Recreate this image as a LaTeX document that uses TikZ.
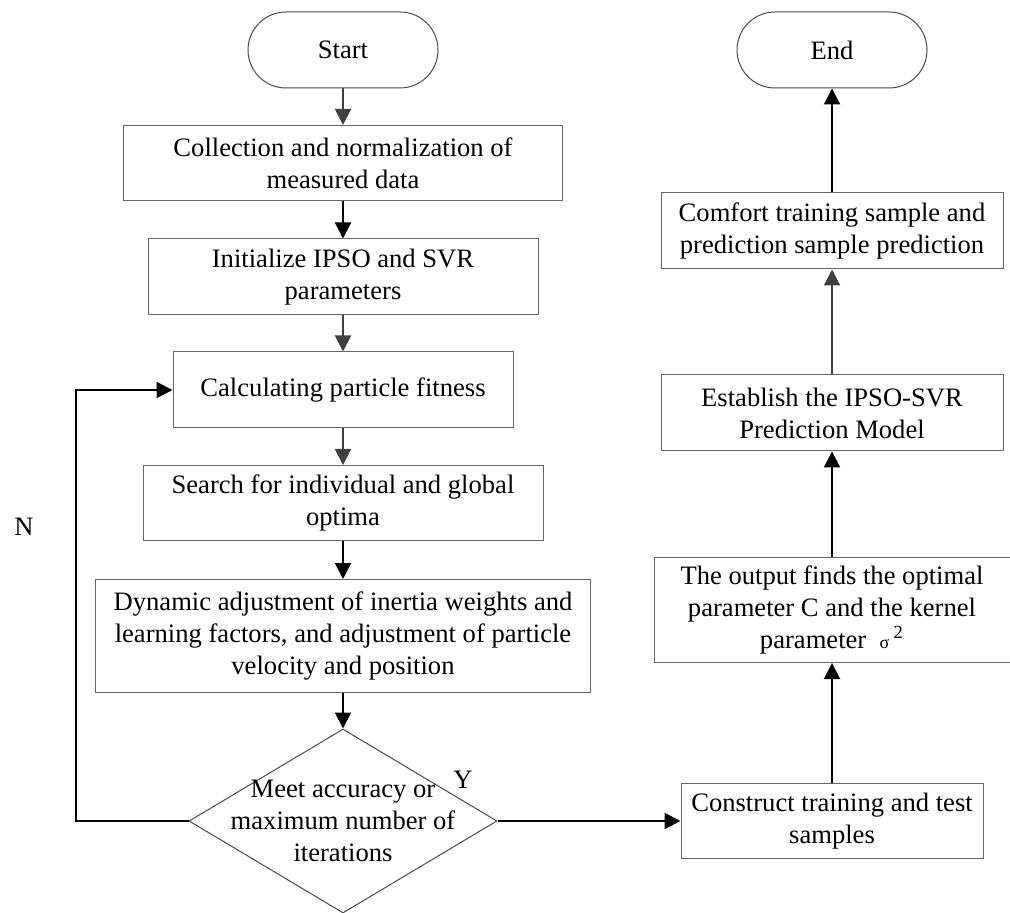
\documentclass[tikz,border=0pt]{standalone}
\usepackage{fontspec}
\setmainfont{Liberation Serif}
\usetikzlibrary{shapes.geometric, positioning, arrows.meta}

\tikzset{
    terminal/.style={draw=black!70, line width=0.5pt, rounded corners=19pt,
        minimum width=95pt, minimum height=38pt, align=center},
    process/.style={draw=black!60, line width=0.5pt, minimum height=38pt, align=center},
    decision/.style={draw=black!70, line width=0.5pt, diamond, aspect=1.674,
        minimum width=154pt, minimum height=92pt, inner sep=0pt},
    flow/.style={-{Triangle[length=8pt,width=8pt]}, line width=1pt, black},
    flowgray/.style={flow, black!75}
}

\begin{document}
\begin{tikzpicture}[font=\fontsize{13.3pt}{16pt}\selectfont, node distance=50pt, on grid]
    \useasboundingbox (0,0) rectangle (505pt,-456.5pt);

    % left column
    \node[terminal] (start) at (171.5pt,-25pt) {Start};
    \node[process, minimum width=219.5pt, minimum height=37.5pt] (collect) [below=56.5pt of start]
        {Collection and normalization of\\measured data};
    \node[process, minimum width=195pt] (init) [below=57pt of collect]
        {Initialize IPSO and SVR\\parameters};
    \node[process, minimum width=170pt] (fitness) [below=56.5pt of init]
        {Calculating particle fitness};
    \node[process, minimum width=200pt, minimum height=37.5pt] (optima) [below=56.5pt of fitness]
        {Search for individual and global\\optima};
    \node[process, minimum width=247.5pt, minimum height=56.5pt] (adjust) [below=66.5pt of optima]
        {Dynamic adjustment of inertia weights and\\learning factors, and adjustment of particle\\velocity and position};
    \node[decision, label={[align=center]center:Meet accuracy or\\maximum number of\\iterations}]
        (check) [below=92.5pt of adjust] {};

    % right column
    \node[process, minimum width=151pt, minimum height=37.5pt] (samples) [right=244.5pt of check]
        {Construct training and test\\samples};
    \node[process, minimum width=178pt, minimum height=52.5pt] (param) [above=105.5pt of samples]
        {The output finds the optimal\\parameter C and the kernel\\parameter~~{\small σ}\,\textsuperscript{2}};
    \node[process, minimum width=171pt] (model) [above=98.5pt of param]
        {Establish the IPSO-SVR\\Prediction Model};
    \node[process, minimum width=171pt] (predict) [above=91pt of model]
        {Comfort training sample and\\prediction sample prediction};
    \node[terminal] (finish) [above=90.5pt of predict] {End};

    \coordinate (loop) at (38pt,-195pt);
    \node (nlabel) at (12pt,-263.5pt) {N};
    \node (ylabel) at (231.5pt,-390pt) {Y};

    \draw[flowgray] (start) -- (collect);
    \draw[flow] (collect) -- (init);
    \draw[flowgray] (init) -- (fitness);
    \draw[flowgray] (fitness) -- (optima);
    \draw[flow] (optima) -- (adjust);
    \draw[flow] (adjust) -- (check);
    \draw[flow] (check.west) -| (loop) -- (fitness.west);
    \draw[flow] (check) -- (samples);
    \draw[flow] (samples) -- (param);
    \draw[flow] (param) -- (model);
    \draw[flowgray] (model) -- (predict);
    \draw[flow] (predict) -- (finish);
\end{tikzpicture}
\end{document}
